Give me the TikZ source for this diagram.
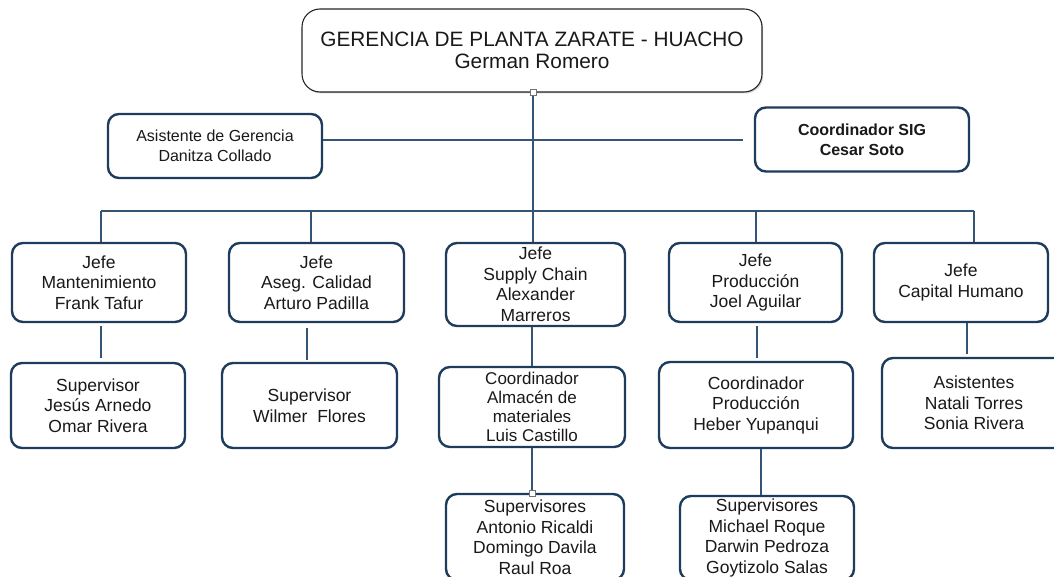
\documentclass[tikz,border=0pt]{standalone}
\usepackage{fontspec}
\setmainfont{Liberation Sans}
\usetikzlibrary{shapes.geometric, arrows, shadows}
\definecolor{azul}{RGB}{30,60,92}
\definecolor{lineaazul}{RGB}{52,84,116}
\definecolor{texto}{RGB}{25,25,25}
\tikzstyle{gerencia} = [rectangle, rounded corners=18pt, minimum width=460pt, minimum height=83pt, text centered, align=center, draw=black!85, line width=1.1pt, fill=white, text=texto, inner sep=0pt, font=\fontsize{20.8}{22.5}\selectfont, drop shadow={opacity=0.35, shadow xshift=1.2pt, shadow yshift=-1.5pt}]
\tikzstyle{cargo} = [rectangle, rounded corners=11pt, text centered, align=center, draw=azul, line width=2.4pt, fill=white, text=texto, inner sep=0pt, font=\fontsize{17.5}{20.5}\selectfont]
\tikzstyle{apoyo} = [cargo, minimum width=214pt, minimum height=64pt, font=\fontsize{16}{20}\selectfont]
\tikzstyle{linea} = [lineaazul, line width=1.4pt]
\tikzstyle{marca} = [rectangle, draw=black!55, fill=white, line width=0.6pt, minimum size=6pt, inner sep=0pt]

\begin{document}
\begin{tikzpicture}[x=1pt, y=-1pt]
\useasboundingbox (0,0) rectangle (1054,577);

\node (gerente) [gerencia] at (532,50.5) {GERENCIA DE PLANTA ZARATE - HUACHO\\German Romero};
\node (asistente) [apoyo] at (215,146) {Asistente de Gerencia\\Danitza Collado};
\node (sig) [apoyo, font=\fontsize{16}{20}\selectfont\bfseries] at (862,139.5) {Coordinador SIG\\Cesar Soto};

\node (mant) [cargo, minimum width=174pt, minimum height=79pt] at (99,282.5) {Jefe\\Mantenimiento\\Frank Tafur};
\node (calidad) [cargo, minimum width=175pt, minimum height=79pt] at (316.5,282.5) {Jefe\\Aseg. Calidad\\Arturo Padilla};
\node (supply) [cargo, minimum width=179pt, minimum height=83pt] at (535.5,284.5) {Jefe\\Supply Chain\\Alexander\\Marreros};
\node (prod) [cargo, minimum width=173pt, minimum height=79pt] at (755.5,282.5) {Jefe\\Producción\\Joel Aguilar};
\node (humano) [cargo, minimum width=174pt, minimum height=79pt] at (961,282.5) {Jefe\\Capital Humano};

\node (supMant) [cargo, minimum width=174pt, minimum height=85pt] at (98,405.5) {Supervisor\\Jesús Arnedo\\Omar Rivera};
\node (supCal) [cargo, minimum width=175pt, minimum height=85pt] at (309.5,405.5) {Supervisor\\Wilmer\ \ Flores};
\node (almacen) [cargo, minimum width=186pt, minimum height=80pt, font=\fontsize{17}{19}\selectfont] at (532,407) {Coordinador\\Almacén de\\materiales\\Luis Castillo};
\node (coordProd) [cargo, minimum width=194pt, minimum height=86pt] at (756,405) {Coordinador\\Producción\\Heber Yupanqui};
\node (asistentes) [cargo, minimum width=184pt, minimum height=90pt] at (974,403) {Asistentes\\Natali Torres\\Sonia Rivera};

\node (supAlm) [cargo, minimum width=178pt, minimum height=86pt] at (535,537) {Supervisores\\Antonio Ricaldi\\Domingo Davila\\Raul Roa};
\node (supProd) [cargo, minimum width=174pt, minimum height=84pt] at (767,538) {Supervisores\\Michael Roque\\Darwin Pedroza\\Goytizolo Salas};

% barra y puntos de bajada
\coordinate (barraIzq) at (101,211);
\coordinate (barraCal) at (311,211);
\coordinate (barraCen) at (533,211);
\coordinate (barraProd) at (756,211);
\coordinate (barraDer) at (974,211);
\coordinate (finSig) at (743,140);

\draw [linea] (gerente.south -| barraCen) -- (barraCen);
\draw [linea] (finSig -| asistente.east) -- (finSig);
\draw [linea] (barraIzq) -- (barraDer);
\draw [linea] (barraIzq) -- (barraIzq |- mant.north);
\draw [linea] (barraCal) -- (barraCal |- calidad.north);
\draw [linea] (barraCen) -- (barraCen |- supply.north);
\draw [linea] (barraProd) -- (barraProd |- prod.north);
\draw [linea] (barraDer) -- (barraDer |- humano.north);

\draw [linea, shorten <=3pt, shorten >=4pt] ([xshift=2pt]mant.south) -- ([xshift=2pt]mant.south |- supMant.north);
\draw [linea, shorten <=5pt, shorten >=2pt] ([xshift=-9.5pt]calidad.south) -- ([xshift=-9.5pt]calidad.south |- supCal.north);
\draw [linea] (almacen |- supply.south) -- (almacen.north);
\draw [linea, shorten <=3pt, shorten >=3pt] ([xshift=1.5pt]prod.south) -- ([xshift=1.5pt]prod.south |- coordProd.north);
\draw [linea, shorten >=3pt] ([xshift=6pt]humano.south) -- ([xshift=6pt]humano.south |- asistentes.north);
\draw [linea] (almacen.south) -- (almacen.south |- supAlm.north);
\draw [linea] ([xshift=5pt]coordProd.south) -- ([xshift=5pt]coordProd.south |- supProd.north);

\node (marcaArriba) [marca] at (gerente.south -| barraCen) {};
\node (marcaAbajo) [marca] at (almacen.south |- supAlm.north) {};

\end{tikzpicture}
\end{document}
